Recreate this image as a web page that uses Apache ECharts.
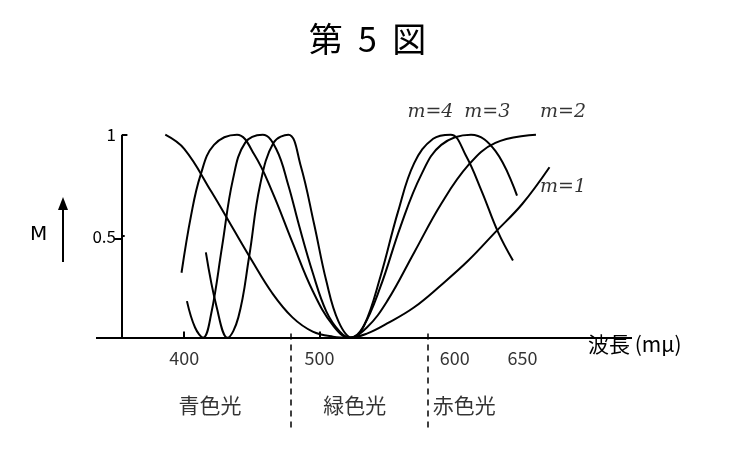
<!DOCTYPE html>
<html><head><meta charset="utf-8">
<script src="https://cdn.jsdelivr.net/npm/echarts@6/dist/echarts.min.js"></script>
<style>html,body{margin:0;background:#fff}#c{width:735px;height:471px}</style>
</head><body><div id="c"></div>
<script>
const m1 = [[386,1],[400,0.93],[420,0.72],[435,0.55],[450,0.38],[465,0.22],[480,0.1],[495,0.03],[510,0.005],[522,0],[535,0.02],[550,0.07],[570,0.15],[590,0.26],[610,0.38],[630,0.52],[650,0.66],[670,0.84]];
const m2 = [[398,0.32],[405,0.6],[412,0.8],[422,0.95],[439,1.0],[452,0.9],[465,0.72],[480,0.47],[495,0.23],[510,0.06],[522,0],[535,0.05],[550,0.18],[570,0.42],[590,0.66],[610,0.85],[630,0.96],[660,1.0]];
const m3 = [[402,0.18],[408,0.05],[414,0],[420,0.12],[428,0.45],[436,0.78],[445,0.96],[458,1.0],[468,0.93],[477,0.75],[485,0.55],[495,0.32],[505,0.13],[515,0.03],[523,0],[532,0.05],[545,0.25],[560,0.55],[575,0.8],[590,0.95],[612,1.0],[630,0.92],[646,0.7]];
const m4 = [[416,0.42],[424,0.15],[432,0],[440,0.1],[448,0.4],[456,0.75],[466,0.96],[477,1.0],[486,0.85],[496,0.56],[505,0.28],[514,0.08],[524,0],[533,0.06],[545,0.3],[558,0.62],[570,0.86],[584,0.98],[597,1.0],[608,0.9],[620,0.72],[632,0.52],[643,0.38]];
const xTicks = [400,500,600,650];
const yTicks = [0.5,1];
const regionLabels = [[419,-0.33,'青色光'],[526,-0.33,'緑色光'],[607,-0.33,'赤色光']];
const curveLabels = [[582,1.11,'m=4'],[624,1.11,'m=3'],[680,1.11,'m=2'],[680,0.74,'m=1']];
const dividers = [479,580];

const font = '"Noto Sans CJK JP", sans-serif';
const line = d => ({type:'line',data:d,smooth:0.4,showSymbol:false,silent:true,lineStyle:{color:'#000',width:2},z:3});
const chart = echarts.init(document.getElementById('c'));
chart.setOption({
  animation:false,
  grid:{left:122,right:103,top:84,bottom:42},
  xAxis:{type:'value',min:354,max:731,splitLine:{show:false},axisLine:{show:false},axisTick:{show:false},axisLabel:{show:false}},
  yAxis:{type:'value',min:-0.45,max:1.25,splitLine:{show:false},axisLine:{show:false},axisTick:{show:false},
    axisLabel:{customValues:yTicks,color:'#000',fontSize:17,fontFamily:font,margin:6,formatter:v=>v===1?'1':'0.5'}},
  series:[line(m1),line(m2),line(m3),line(m4),
    {type:'line',data:[],markLine:{silent:true,symbol:'none',label:{show:false},lineStyle:{color:'#000',width:2,type:'solid'},
      data:[[{coord:[354,0]},{coord:[731,0]}],[{coord:[354,0]},{coord:[354,1]}],[{coord:[354,1]},{coord:[358,1]}],[{coord:[354,0.5]},{coord:[356,0.5]}],
        ...xTicks.slice(0,2).map(v=>[{coord:[v,0]},{coord:[v,0.03]}])]}},
    {type:'line',data:[],markLine:{silent:true,symbol:'none',label:{show:false},lineStyle:{color:'#000',width:1.5,type:[6,5]},
      data:dividers.map(v=>[{coord:[v,0.02]},{coord:[v,-0.45]}])}},
    {type:'scatter',symbolSize:0,silent:true,data:xTicks.map(v=>[v,-0.1,String(v)]),
      label:{show:true,formatter:p=>p.data[2],color:'#000',fontSize:18,fontFamily:font,position:'inside'}},
    {type:'scatter',symbolSize:0,silent:true,data:regionLabels,
      label:{show:true,formatter:p=>p.data[2],color:'#000',fontSize:21,fontFamily:font,position:'inside'}},
    {type:'scatter',symbolSize:0,silent:true,data:curveLabels,
      label:{show:true,formatter:p=>p.data[2],color:'#000',fontSize:19,fontStyle:'italic',fontFamily:'"DejaVu Serif", serif',position:'inside'}}
  ],
  graphic:[
    {type:'text',left:'center',top:22,style:{text:'第  5  図',font:'34px "Noto Sans CJK JP"',fill:'#000'}},
    {type:'text',left:588,top:334,style:{text:'波長 (mμ)',font:'21px "Noto Sans CJK JP"',fill:'#000'}},
    {type:'text',left:30,top:225,style:{text:'M',font:'20px "DejaVu Sans"',fill:'#000'}},
    {type:'line',shape:{x1:63,y1:262,x2:63,y2:200},style:{stroke:'#000',lineWidth:2}},
    {type:'polygon',shape:{points:[[58,210],[63,197],[68,210]]},style:{fill:'#000'}},
    {type:'line',shape:{x1:96,y1:338,x2:123,y2:338},style:{stroke:'#000',lineWidth:2}},
    {type:'line',shape:{x1:114,y1:239,x2:122,y2:239},style:{stroke:'#000',lineWidth:2}}
  ]
});
</script></body></html>
